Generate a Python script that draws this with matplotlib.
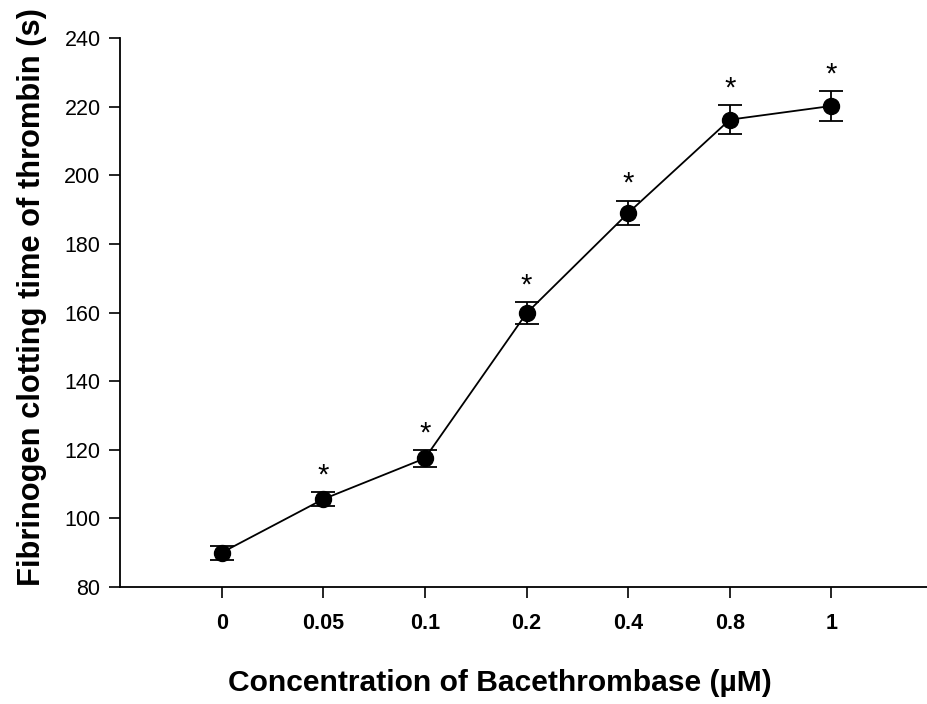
import matplotlib
matplotlib.use("Agg")
import matplotlib.pyplot as plt

categories = ["0", "0.05", "0.1", "0.2", "0.4", "0.8", "1"]
clotting_time = [90.0, 105.6, 117.5, 159.8, 189.0, 216.2, 220.2]
errors = [2.0, 2.0, 2.4, 3.2, 3.6, 4.3, 4.3]
significant = [False, True, True, True, True, True, True]
yticks = [80, 100, 120, 140, 160, 180, 200, 220, 240]

plt.rcParams['font.family'] = ['Liberation Sans', 'DejaVu Sans']

fig = plt.figure(figsize=(9.28, 7.04), dpi=100)
ax = fig.add_axes([0.1293, 0.1662, 0.8707, 0.7798])

x = list(range(len(categories)))
ax.errorbar(x, clotting_time, yerr=errors, fmt='o-', color='black',
            markersize=11.5, linewidth=1.3, elinewidth=1.3, capsize=8.5,
            capthick=1.3, ecolor='black', zorder=3)

for xi, v, e, s in zip(x, clotting_time, errors, significant):
    if s:
        ax.annotate('*', xy=(xi, v + e), xytext=(0, 2), textcoords='offset points',
                    ha='center', va='bottom', fontsize=21)

ax.set_xlim(-1, 6.95)
ax.set_ylim(80, 240)
ax.set_yticks(yticks)
ax.set_xticks(x)
ax.set_xticklabels(categories, fontsize=15.5, fontweight='bold')
ax.tick_params(axis='y', labelsize=15.5, direction='out', length=8, width=1.2, pad=6)
ax.tick_params(axis='x', direction='out', length=8, width=1.2, pad=11)

for side in ['top', 'right']:
    ax.spines[side].set_visible(False)
for side in ['left', 'bottom']:
    ax.spines[side].set_linewidth(1.3)

ax.set_ylabel('Fibrinogen clotting time of thrombin (s)', fontsize=22.2,
              fontweight='bold')
ax.yaxis.set_label_coords(-0.09, 0.528)
fig.text(0.539, 0.030, 'Concentration of Bacethrombase (µM)', ha='center',
         va='center', fontsize=21.6, fontweight='bold')

fig.savefig('out.png', dpi=100)
